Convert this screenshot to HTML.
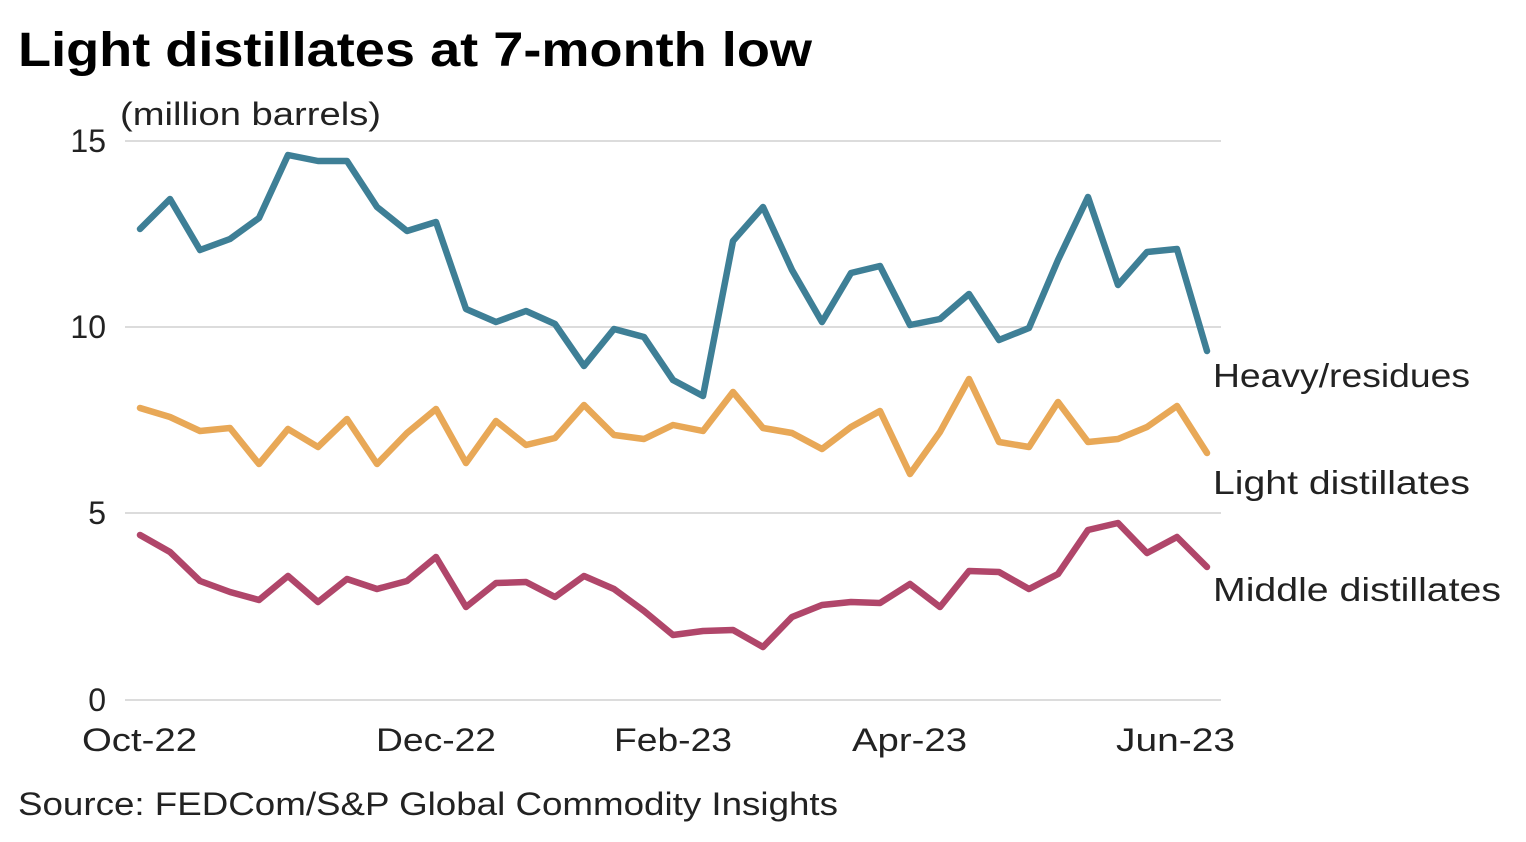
<!DOCTYPE html>
<html><head><meta charset="utf-8"><style>
html,body{margin:0;padding:0;background:#fff;}
svg{display:block;font-family:"Liberation Sans",sans-serif;}
</style></head><body>
<svg width="1526" height="842" viewBox="0 0 1526 842" xmlns="http://www.w3.org/2000/svg">
<text x="18" y="66" font-size="48" font-weight="bold" fill="#000" textLength="794" lengthAdjust="spacingAndGlyphs">Light distillates at 7-month low</text>
<text x="120" y="125" font-size="32" fill="#222" textLength="261" lengthAdjust="spacingAndGlyphs">(million barrels)</text>
<g stroke="#d0d0d0" stroke-width="1.5">
<line x1="125" y1="141" x2="1221" y2="141"/>
<line x1="125" y1="327" x2="1221" y2="327"/>
<line x1="125" y1="513" x2="1221" y2="513"/>
<line x1="125" y1="700" x2="1221" y2="700"/>
</g>
<g font-size="32" fill="#222" text-anchor="end">
<text x="106" y="152">15</text>
<text x="106" y="338">10</text>
<text x="106" y="524">5</text>
<text x="106" y="711">0</text>
</g>
<g font-size="32" fill="#222">
<text x="82" y="751" textLength="115" lengthAdjust="spacingAndGlyphs">Oct-22</text>
<text x="376" y="751" textLength="120" lengthAdjust="spacingAndGlyphs">Dec-22</text>
<text x="614" y="751" textLength="118" lengthAdjust="spacingAndGlyphs">Feb-23</text>
<text x="852" y="751" textLength="115" lengthAdjust="spacingAndGlyphs">Apr-23</text>
<text x="1116" y="751" textLength="119" lengthAdjust="spacingAndGlyphs">Jun-23</text>
</g>
<g fill="none" stroke-width="6.5" stroke-linejoin="round" stroke-linecap="round">
<polyline stroke="#3e7f96" points="140,229 170,199 200,250 230,239 259,218 288,155 318,161 347,161 377,207 407,231 436,222 466,309 496,322 526,311 555,324 584,366 614,329 644,337 673,380 703,396 733,241 763,207 792,270 822,322 851,273 880,266 910,325 940,319 969,294 999,340 1029,328 1058,260 1088,197 1118,285 1147,252 1177,249 1207,351"/>
<polyline stroke="#e8a857" points="140,408 170,417 200,431 230,428 259,464 288,429 318,447 347,419 377,464 407,433 436,409 466,463 496,421 526,445 555,438 584,405 614,435 644,439 673,425 703,431 733,392 763,428 792,433 822,449 851,427 880,411 910,474 940,432 969,379 999,442 1029,447 1058,402 1088,442 1118,439 1147,427 1177,406 1207,453"/>
<polyline stroke="#b0466a" points="140,535 170,552 200,581 230,592 259,600 288,576 318,602 347,579 377,589 407,581 436,557 466,607 496,583 526,582 555,597 584,576 614,589 644,611 673,635 703,631 733,630 763,647 792,617 822,605 851,602 880,603 910,584 940,607 969,571 999,572 1029,589 1058,574 1088,530 1118,523 1147,553 1177,537 1207,567"/>
</g>
<g font-size="33" fill="#222">
<text x="1213" y="387" textLength="257" lengthAdjust="spacingAndGlyphs">Heavy/residues</text>
<text x="1213" y="494" textLength="257" lengthAdjust="spacingAndGlyphs">Light distillates</text>
<text x="1213" y="601" textLength="288" lengthAdjust="spacingAndGlyphs">Middle distillates</text>
</g>
<text x="18" y="815" font-size="32" fill="#222" textLength="820" lengthAdjust="spacingAndGlyphs">Source: FEDCom/S&amp;P Global Commodity Insights</text>
</svg>
</body></html>
